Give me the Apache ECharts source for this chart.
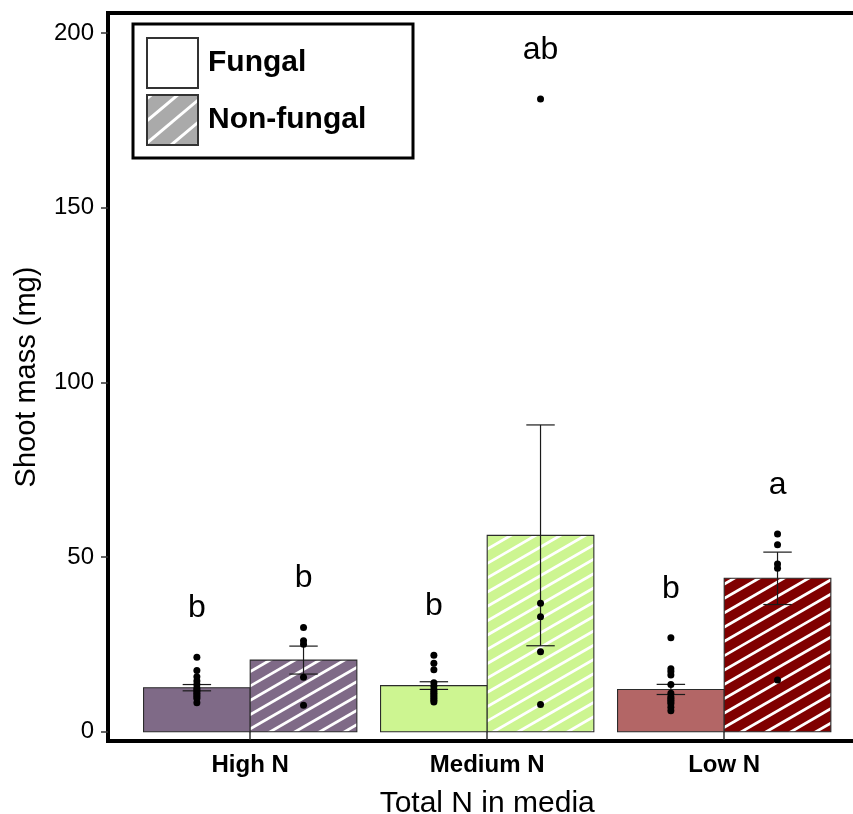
<!DOCTYPE html>
<html>
<head>
<meta charset="utf-8">
<script src="https://cdn.jsdelivr.net/npm/echarts@6/dist/echarts.min.js"></script>
<style>
  html, body { margin: 0; padding: 0; background: #fff; }
  #chart { width: 853px; height: 814px; }
</style>
</head>
<body>
<div id="chart"></div>
<script>
// Shoot mass by nitrogen level, fungal vs non-fungal treatment
const categories = ['High N', 'Medium N', 'Low N'];
const treatments = ['Fungal', 'Non-fungal'];

const fungalMean = [12.6, 13.2, 12.1];
const fungalSE = [0.9, 1.1, 1.45];
const nonFungalMean = [20.5, 56.2, 43.9];
const nonFungalSE = [4.0, 31.6, 7.5];

const fungalPoints = [
  [21.3, 17.5, 15.7, 14.5, 13.5, 12.5, 12.0, 11.5, 11.0, 10.5, 10.0, 9.5, 8.3],
  [21.9, 19.6, 17.7, 14.0, 13.0, 12.0, 11.5, 11.0, 10.5, 10.0, 9.5, 9.0, 8.5],
  [26.9, 18.0, 17.2, 16.2, 13.5, 11.0, 10.0, 9.5, 9.0, 8.5, 8.0, 7.0, 6.0]
];
const nonFungalPoints = [
  [29.8, 26.0, 25.0, 15.6, 7.6],
  [181.1, 36.8, 32.9, 22.9, 7.8],
  [56.6, 53.5, 48.0, 46.8, 14.8]
];

const fungalLetters = ['b', 'b', 'b'];
const nonFungalLetters = ['b', 'ab', 'a'];

const yTicks = [0, 50, 100, 150, 200];

// ---- styling ----
const FONT = '"Liberation Sans", Arial, Helvetica, sans-serif';
const fungalFill = ['#7f6a87', '#cdf591', '#b36666'];
const nonFungalFill = ['#7f6a87', '#cdf591', '#800000'];
const DODGE = 0.9;          // total width of a dodged pair, in category units
const LETTER_OFFSET = 14;   // letters sit this far above the highest point
const Y_MIN = -2.66, Y_MAX = 205.7;

// Clip a polygon to an axis-aligned rectangle (Sutherland–Hodgman)
function clipToRect(poly, rx, ry, rw, rh) {
  const edges = [
    p => p[0] >= rx, p => p[0] <= rx + rw,
    p => p[1] >= ry, p => p[1] <= ry + rh
  ];
  const inter = [
    (a, b) => { const t = (rx - a[0]) / (b[0] - a[0]); return [rx, a[1] + t * (b[1] - a[1])]; },
    (a, b) => { const t = (rx + rw - a[0]) / (b[0] - a[0]); return [rx + rw, a[1] + t * (b[1] - a[1])]; },
    (a, b) => { const t = (ry - a[1]) / (b[1] - a[1]); return [a[0] + t * (b[0] - a[0]), ry]; },
    (a, b) => { const t = (ry + rh - a[1]) / (b[1] - a[1]); return [a[0] + t * (b[0] - a[0]), ry + rh]; }
  ];
  let out = poly;
  for (let e = 0; e < 4; e++) {
    const input = out; out = [];
    if (!input.length) break;
    for (let i = 0; i < input.length; i++) {
      const cur = input[i], prev = input[(i + input.length - 1) % input.length];
      const cIn = edges[e](cur), pIn = edges[e](prev);
      if (cIn) {
        if (!pIn) out.push(inter[e](prev, cur));
        out.push(cur);
      } else if (pIn) {
        out.push(inter[e](prev, cur));
      }
    }
  }
  return out;
}

// White diagonal stripes filling a rectangle
function stripes(x, y, w, h, angleDeg, spacing, width, color) {
  const th = angleDeg * Math.PI / 180;
  const d = [Math.cos(th), -Math.sin(th)];
  const n = [Math.sin(th), Math.cos(th)];
  const corners = [[x, y], [x + w, y], [x, y + h], [x + w, y + h]];
  const proj = corners.map(p => p[0] * n[0] + p[1] * n[1]);
  const cmin = Math.min.apply(null, proj), cmax = Math.max.apply(null, proj);
  const L = Math.hypot(w, h) + Math.hypot(x, y) + 2000;
  const hw = width / 2;
  const els = [];
  for (let k = Math.floor(cmin / spacing) - 1; k <= Math.ceil(cmax / spacing) + 1; k++) {
    const c = k * spacing;
    const pt = (cc, t) => [n[0] * cc + d[0] * t, n[1] * cc + d[1] * t];
    const poly = [pt(c - hw, -L), pt(c - hw, L), pt(c + hw, L), pt(c + hw, -L)];
    const clipped = clipToRect(poly, x, y, w, h);
    if (clipped.length >= 3) {
      els.push({ type: 'polygon', shape: { points: clipped }, style: { fill: color } });
    }
  }
  return els;
}

// bar records: [group position, mean, treatment index, category index]
const barData = [];
const errData = [];
const letterData = [];
categories.forEach((c, i) => {
  barData.push([i + 1, fungalMean[i], 0, i]);
  barData.push([i + 1, nonFungalMean[i], 1, i]);
  errData.push([i + 1 - DODGE / 4, fungalMean[i] - fungalSE[i], fungalMean[i] + fungalSE[i]]);
  errData.push([i + 1 + DODGE / 4, nonFungalMean[i] - nonFungalSE[i], nonFungalMean[i] + nonFungalSE[i]]);
  letterData.push([i + 1 - DODGE / 4, Math.max.apply(null, fungalPoints[i]) + LETTER_OFFSET, fungalLetters[i]]);
  letterData.push([i + 1 + DODGE / 4, Math.max.apply(null, nonFungalPoints[i]) + LETTER_OFFSET, nonFungalLetters[i]]);
});

const fungalScatter = [];
const nonFungalScatter = [];
categories.forEach((c, i) => {
  fungalPoints[i].forEach(v => fungalScatter.push([i + 1 - DODGE / 4, v]));
  nonFungalPoints[i].forEach(v => nonFungalScatter.push([i + 1 + DODGE / 4, v]));
});

function renderBar(params, api) {
  const g = api.value(0), v = api.value(1), side = api.value(2), ci = api.value(3);
  const x0 = side === 0 ? g - DODGE / 2 : g;
  const x1 = x0 + DODGE / 2;
  const p0 = api.coord([x0, v]);
  const p1 = api.coord([x1, 0]);
  const rx = p0[0], ry = p0[1], rw = p1[0] - p0[0], rh = p1[1] - p0[1];
  const fill = side === 0 ? fungalFill[ci] : nonFungalFill[ci];
  const children = [{ type: 'rect', shape: { x: rx, y: ry, width: rw, height: rh }, style: { fill: fill } }];
  if (side === 1) {
    stripes(rx, ry, rw, rh, 30, 12.4, 2.8, '#ffffff').forEach(e => children.push(e));
  }
  children.push({ type: 'rect', shape: { x: rx, y: ry, width: rw, height: rh },
    style: { fill: 'none', stroke: '#2b2b2b', lineWidth: 1.1 } });
  return { type: 'group', children: children };
}

function renderErr(params, api) {
  const x = api.value(0), lo = api.value(1), hi = api.value(2);
  const cap = 0.06;
  const a = api.coord([x, lo]), b = api.coord([x, hi]);
  const l1 = api.coord([x - cap, lo]), r1 = api.coord([x + cap, lo]);
  const l2 = api.coord([x - cap, hi]), r2 = api.coord([x + cap, hi]);
  const st = { stroke: '#1a1a1a', lineWidth: 1.2 };
  return { type: 'group', children: [
    { type: 'line', shape: { x1: a[0], y1: a[1], x2: b[0], y2: b[1] }, style: st },
    { type: 'line', shape: { x1: l1[0], y1: l1[1], x2: r1[0], y2: r1[1] }, style: st },
    { type: 'line', shape: { x1: l2[0], y1: l2[1], x2: r2[0], y2: r2[1] }, style: st }
  ] };
}

function renderLetter(params, api) {
  const p = api.coord([api.value(0), api.value(1)]);
  return { type: 'text', x: p[0], y: p[1],
    style: { text: letterData[params.dataIndex][2], fontFamily: FONT, fontSize: 32,
             fill: '#000', align: 'center', verticalAlign: 'middle' } };
}

// legend box
const legendEls = [
  { type: 'rect', shape: { x: 133, y: 24, width: 280, height: 134 },
    style: { fill: '#fff', stroke: '#000', lineWidth: 3 } },
  { type: 'rect', shape: { x: 147, y: 38, width: 51, height: 50 },
    style: { fill: '#fff', stroke: '#333', lineWidth: 2 } },
  { type: 'rect', shape: { x: 147, y: 95, width: 51, height: 50 },
    style: { fill: '#aaaaaa' } }
].concat(stripes(147, 95, 51, 50, 40, 17, 3, '#ffffff')).concat([
  { type: 'rect', shape: { x: 147, y: 95, width: 51, height: 50 },
    style: { fill: 'none', stroke: '#333', lineWidth: 2 } },
  { type: 'text', x: 208, y: 63,
    style: { text: treatments[0], fontFamily: FONT, fontWeight: 'bold', fontSize: 30,
             fill: '#000', verticalAlign: 'middle' } },
  { type: 'text', x: 208, y: 120,
    style: { text: treatments[1], fontFamily: FONT, fontWeight: 'bold', fontSize: 30,
             fill: '#000', verticalAlign: 'middle' } }
]);

const chart = echarts.init(document.getElementById('chart'), null, { renderer: 'canvas' });
chart.setOption({
  animation: false,
  backgroundColor: '#fff',
  grid: { left: 108, top: 13, width: 758.4, height: 728, outerBoundsMode: 'none',
          containLabel: false, show: true,
          borderColor: '#000', borderWidth: 4, backgroundColor: 'transparent' },
  xAxis: {
    type: 'value', min: 0.4, max: 3.6,
    axisLine: { show: false }, splitLine: { show: false },
    axisTick: { show: true, customValues: [1, 2, 3], length: 8,
                lineStyle: { color: '#333', width: 1.5 } },
    axisLabel: { customValues: [1, 2, 3], formatter: v => categories[Math.round(v) - 1],
                 fontFamily: FONT, fontWeight: 'bold', fontSize: 24, color: '#000', margin: 12 },
    name: 'Total N in media', nameLocation: 'middle', nameGap: 48,
    nameTextStyle: { fontFamily: FONT, fontSize: 30, color: '#000' }
  },
  yAxis: {
    type: 'value', min: Y_MIN, max: Y_MAX,
    axisLine: { show: false }, splitLine: { show: false },
    axisTick: { show: true, customValues: yTicks, length: 7,
                lineStyle: { color: '#333', width: 1.5 } },
    axisLabel: { customValues: yTicks, fontFamily: FONT, fontSize: 24, color: '#000', margin: 14 },
    name: 'Shoot mass (mg)', nameLocation: 'middle', nameGap: 67,
    nameTextStyle: { fontFamily: FONT, fontSize: 29, color: '#000' }
  },
  graphic: [{ type: 'group', z: 100, children: legendEls }],
  series: [
    { type: 'custom', name: 'bars', renderItem: renderBar, data: barData, z: 2 },
    { type: 'custom', name: 'se', renderItem: renderErr, data: errData, z: 3 },
    { type: 'scatter', name: treatments[0], data: fungalScatter, symbolSize: 7,
      itemStyle: { color: '#000', opacity: 1 }, z: 4 },
    { type: 'scatter', name: treatments[1], data: nonFungalScatter, symbolSize: 7,
      itemStyle: { color: '#000', opacity: 1 }, z: 4 },
    { type: 'custom', name: 'letters', renderItem: renderLetter, data: letterData, z: 5 }
  ]
});
</script>
</body>
</html>
